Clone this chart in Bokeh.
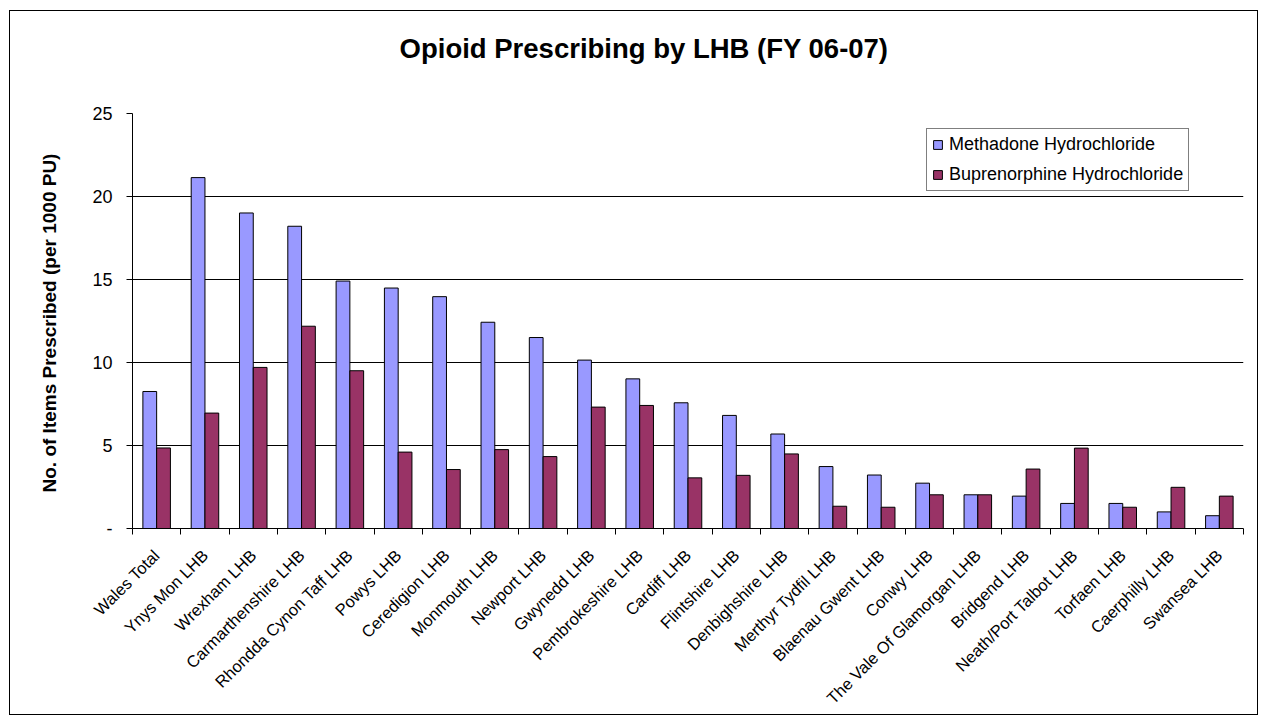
import math
from bokeh.plotting import figure
from bokeh.models import (Range1d, FixedTicker, ColumnDataSource, Legend, LegendItem,
                          Label, Title)
from bokeh.embed import file_html
from bokeh.resources import INLINE

# Local Health Boards, FY 2006-07
categories = [
    "Wales Total", "Ynys Mon LHB", "Wrexham LHB", "Carmarthenshire LHB",
    "Rhondda Cynon Taff LHB", "Powys LHB", "Ceredigion LHB", "Monmouth LHB",
    "Newport LHB", "Gwynedd LHB", "Pembrokeshire LHB", "Cardiff LHB",
    "Flintshire LHB", "Denbighshire LHB", "Merthyr Tydfil LHB",
    "Blaenau Gwent LHB", "Conwy LHB", "The Vale Of Glamorgan LHB",
    "Bridgend LHB", "Neath/Port Talbot LHB", "Torfaen LHB",
    "Caerphilly LHB", "Swansea LHB",
]
# items prescribed per 1000 PU
methadone = [8.25, 21.13, 19.0, 18.2, 14.9, 14.48, 13.96, 12.42, 11.5, 10.14,
             9.01, 7.57, 6.81, 5.69, 3.73, 3.22, 2.73, 2.03, 1.95, 1.51, 1.51,
             1.0, 0.77]
buprenorphine = [4.85, 6.95, 9.7, 12.18, 9.5, 4.6, 3.55, 4.75, 4.33, 7.31,
                 7.41, 3.05, 3.2, 4.49, 1.34, 1.28, 2.03, 2.03, 3.58, 4.84,
                 1.28, 2.48, 1.95]
series_names = ["Methadone Hydrochloride", "Buprenorphine Hydrochloride"]
y_ticks = [0, 5, 10, 15, 20, 25]
title_text = "Opioid Prescribing by LHB (FY 06-07)"
y_title = "No. of Items Prescribed (per 1000 PU)"

FONT = "Liberation Sans"
M_COLOR = "#9999FF"
B_COLOR = "#993366"

n = len(categories)
centers = [i + 1 for i in range(n)]
bounds = [i + 0.5 for i in range(n + 1)]
bar_w = 0.285

src = ColumnDataSource(dict(
    xm=[c - bar_w / 2 for c in centers],
    xb=[c + bar_w / 2 for c in centers],
    m=methadone, b=buprenorphine,
))

# the value axis stops at 25; the space above it holds the chart title
y_top = 30.59

p = figure(width=1249, height=705,
           x_range=Range1d(0.5, n + 0.5), y_range=Range1d(0, y_top),
           output_backend="svg", toolbar_location=None,
           min_border_left=120, min_border_right=16,
           min_border_top=9, min_border_bottom=187,
           margin=(10, 0, 0, 9),
           styles={"border": "1px solid #000000"})

p.outline_line_color = None
p.background_fill_color = "white"
p.border_fill_color = "white"

rm = p.vbar(x="xm", top="m", width=bar_w, source=src,
            fill_color=M_COLOR, line_color="black", line_width=1)
rb = p.vbar(x="xb", top="b", width=bar_w, source=src,
            fill_color=B_COLOR, line_color="black", line_width=1)

# x axis: labels at category centres, tick marks between categories
xa = p.xaxis[0]
xa.ticker = FixedTicker(ticks=centers, minor_ticks=bounds)
xa.major_label_overrides = {c: name for c, name in zip(centers, categories)}
xa.major_label_orientation = math.pi / 4
xa.major_label_text_font = FONT
xa.major_label_text_font_size = "16.5px"
xa.major_label_text_color = "black"
xa.major_label_standoff = 18
xa.major_tick_out = 0
xa.major_tick_in = 0
xa.minor_tick_out = 6
xa.minor_tick_in = 0
xa.minor_tick_line_color = "black"
xa.axis_line_color = "black"

# y axis
ya = p.yaxis[0]
ya.ticker = FixedTicker(ticks=y_ticks)
ya.bounds = (0, 25)
ya.major_label_overrides = {0: "-"}
ya.major_label_text_font = FONT
ya.major_label_text_font_size = "18px"
ya.major_label_text_color = "black"
ya.major_label_standoff = 14
ya.major_tick_out = 6
ya.major_tick_in = 0
ya.minor_tick_line_color = None
ya.axis_line_color = "black"
ya.major_tick_line_color = "black"

# y axis title, set beside the 0-25 part of the axis
y_label = Title(text=y_title, text_font=FONT, text_font_size="19px",
                text_font_style="bold", text_color="black",
                align="left", offset=36, vertical_align="top", standoff=56)
p.add_layout(y_label, "left")

p.xgrid.grid_line_color = None
p.ygrid.ticker = FixedTicker(ticks=y_ticks[1:-1])
p.ygrid.grid_line_color = "black"
p.ygrid.grid_line_width = 1

title = Label(x=11.09, y=28.9, text=title_text, text_font=FONT,
              text_font_size="27.5px", text_font_style="bold",
              text_align="center", text_baseline="middle", text_color="black")
p.add_layout(title)

legend = Legend(items=[LegendItem(label=series_names[0], renderers=[rm]),
                       LegendItem(label=series_names[1], renderers=[rb])],
                location=(794, 337))
legend.label_text_font = FONT
legend.label_text_font_size = "18px"
legend.label_text_color = "black"
legend.glyph_width = 11
legend.glyph_height = 11
legend.label_height = 20
legend.label_standoff = 6
legend.spacing = 9
legend.padding = 5
legend.margin = 0
legend.border_line_color = "black"
legend.border_line_width = 1
legend.background_fill_color = "white"
legend.background_fill_alpha = 1
p.add_layout(legend, "center")

open("out.html", "w").write(file_html(p, INLINE))
